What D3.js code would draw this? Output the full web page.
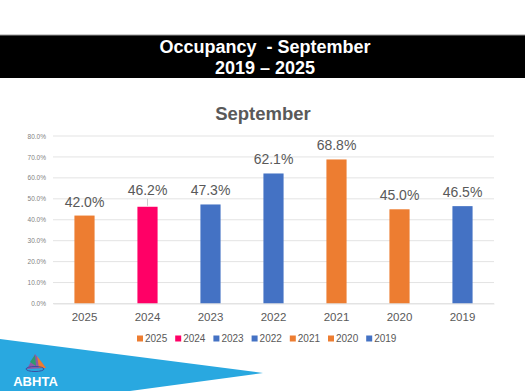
<!DOCTYPE html>
<html><head><meta charset="utf-8">
<script src="https://cdn.jsdelivr.net/npm/d3@7"></script>
<style>body{margin:0;background:#fff}svg{display:block}</style>
</head><body>
<svg id="c" width="525" height="391"></svg>
<script>
const categories = ["2025","2024","2023","2022","2021","2020","2019"];
const values = [42.0, 46.2, 47.3, 62.1, 68.8, 45.0, 46.5];
const colors = ["#ED7D31","#FF0066","#4472C4","#4472C4","#ED7D31","#ED7D31","#4472C4"];
const yTicks = [0,10,20,30,40,50,60,70,80];

const svg = d3.select("#c");
const F = "'Liberation Sans', Arial, sans-serif";

// Header band
svg.append("rect").attr("x",0).attr("y",35).attr("width",525).attr("height",43).attr("fill","#000");
svg.append("line").attr("x1",0).attr("x2",525).attr("y1",35).attr("y2",35).attr("stroke","#999").attr("stroke-width",1);
svg.append("text").attr("x",265).attr("y",53).attr("text-anchor","middle").attr("fill","#fff")
  .style("font-family",F).style("font-weight","bold").style("font-size","18px").attr("xml:space","preserve").text("Occupancy  - September");
svg.append("text").attr("x",265).attr("y",73.5).attr("text-anchor","middle").attr("fill","#fff")
  .style("font-family",F).style("font-weight","bold").style("font-size","18px").text("2019 – 2025");

// Chart title
svg.append("text").attr("x",263).attr("y",120).attr("text-anchor","middle").attr("fill","#595959")
  .style("font-family",F).style("font-weight","bold").style("font-size","18.5px").text("September");

const x = d3.scaleBand().domain(categories).range([53,494]).paddingInner(0.68).paddingOuter(0.34);
const y = d3.scaleLinear().domain([0,80]).range([303.5,136]);

// Gridlines
svg.append("g").selectAll("line").data(yTicks).join("line")
  .attr("x1",53).attr("x2",494).attr("y1",d=>y(d)).attr("y2",d=>y(d))
  .attr("stroke","#e3e3e3").attr("stroke-width",1);

// Y axis
const yAxis = d3.axisLeft(y).tickValues(yTicks).tickFormat(d=>d.toFixed(1)+"%").tickSize(0).tickPadding(7);
const yg = svg.append("g").attr("transform","translate(53,0)").call(yAxis);
yg.select(".domain").remove();
yg.selectAll("text").attr("fill","#7f7f7f").style("font-family",F).style("font-size","6.5px");

// Bars
svg.append("g").selectAll("rect").data(categories).join("rect")
  .attr("x",d=>x(d)).attr("width",x.bandwidth())
  .attr("y",(d,i)=>y(values[i])).attr("height",(d,i)=>y(0)-y(values[i]))
  .attr("fill",(d,i)=>colors[i]);

// Value labels
const lblOffset = categories.map(c=> c==="2024" ? 12 : 9);
svg.append("g").selectAll("text").data(categories).join("text")
  .attr("x",d=>x(d)+x.bandwidth()/2).attr("y",(d,i)=>y(values[i])-lblOffset[i])
  .attr("text-anchor","middle").attr("fill","#595959")
  .style("font-family",F).style("font-size","14px").text((d,i)=>values[i].toFixed(1)+"%");
// leader line for 2024
svg.append("line").attr("x1",x("2024")+x.bandwidth()/2).attr("x2",x("2024")+x.bandwidth()/2)
  .attr("y1",y(values[1])-8).attr("y2",y(values[1])-1).attr("stroke","#bfbfbf").attr("stroke-width",0.8);

// X axis
const xAxis = d3.axisBottom(x).tickSize(0).tickPadding(9);
const xg = svg.append("g").attr("transform",`translate(0,${y(0)})`).call(xAxis);
xg.select(".domain").attr("stroke","#e3e3e3");
xg.selectAll("text").attr("fill","#595959").style("font-family",F).style("font-size","11.5px");

// Legend
const lg = svg.append("g");
categories.forEach((c,i)=>{
  const lx = 137 + i*38.2;
  lg.append("rect").attr("x",lx).attr("y",335.5).attr("width",6).attr("height",6).attr("fill",colors[i]);
  lg.append("text").attr("x",lx+8).attr("y",342).attr("fill","#595959")
    .style("font-family",F).style("font-size","10px").text(c);
});

// Footer shape and logo
svg.append("polygon").attr("points","0,339 263,373 130,391 0,391").attr("fill","#29A8E0");
const logo = svg.append("g");
logo.append("polygon").attr("points","35,354 46,368 27,369").attr("fill","#8e5aa8");
logo.append("polygon").attr("points","37,356 46,368 39,368").attr("fill","#ED7D31");
logo.append("polygon").attr("points","30,362 35,355 36,366").attr("fill","#2e9b6e");
logo.append("ellipse").attr("cx",35).attr("cy",369).attr("rx",9).attr("ry",2.5).attr("fill","none").attr("stroke","#3a4fa0").attr("stroke-width",1);
logo.append("text").attr("x",35.5).attr("y",386).attr("text-anchor","middle").attr("fill","#fff")
  .style("font-family",F).style("font-weight","bold").style("font-size","13px").text("ABHTA");
</script>
</body></html>
